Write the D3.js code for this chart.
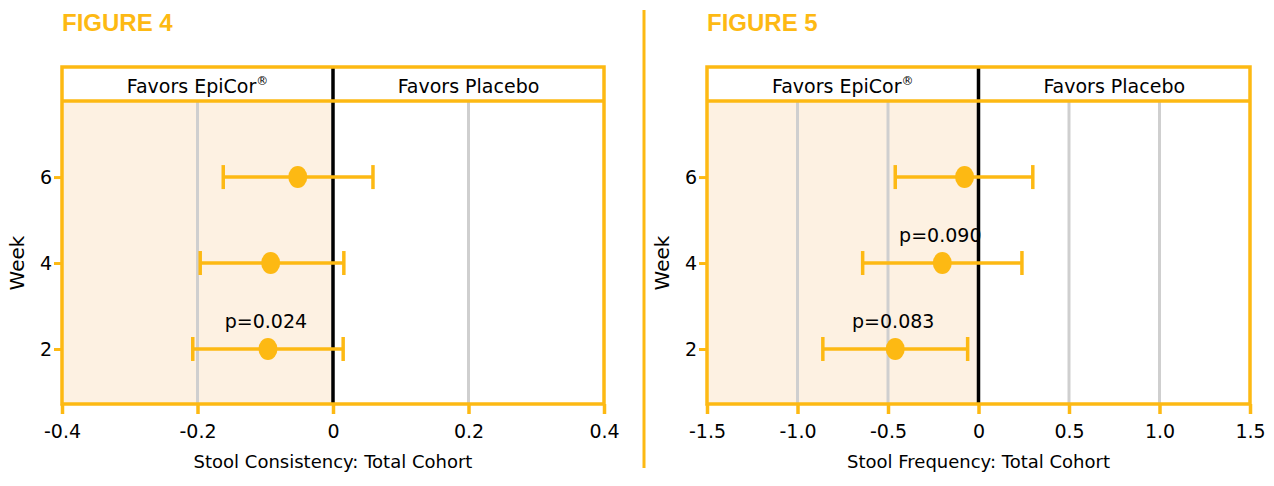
<!DOCTYPE html>
<html><head><meta charset="utf-8">
<script src="https://cdn.jsdelivr.net/npm/d3@7"></script>
<style>body{margin:0;background:#fff}text{font-family:"DejaVu Sans",sans-serif}</style>
</head><body><svg id="c" width="1274" height="486"></svg>
<script>
const weeks=[6,4,2];
const weekLabels=["6","4","2"];
const f4Mean=[-0.052,-0.092,-0.096], f4Lo=[-0.162,-0.196,-0.207], f4Hi=[0.059,0.016,0.015];
const f4P=[null,null,"p=0.024"];
const f4Ticks=[-0.4,-0.2,0,0.2,0.4], f4TickLabels=["-0.4","-0.2","0","0.2","0.4"];
const f5Mean=[-0.077,-0.20,-0.46], f5Lo=[-0.46,-0.64,-0.86], f5Hi=[0.30,0.24,-0.06];
const f5P=[null,"p=0.090","p=0.083"];
const f5Ticks=[-1.5,-1,-0.5,0,0.5,1,1.5], f5TickLabels=["-1.5","-1.0","-0.5","0","0.5","1.0","1.5"];
const C="#FDB913", SH="#FDF1E2";
const svg=d3.select("#c");
svg.append("line").attr("x1",644).attr("x2",644).attr("y1",10).attr("y2",468).attr("stroke",C).attr("stroke-width",3);
function panel(o){
  const g=svg.append("g");
  const x=d3.scaleLinear().domain(o.domain).range([o.x0,o.x1]);
  const y=d3.scaleLinear().domain([0.72,7.77]).range([404,101]);
  const top=67;
  g.append("text").attr("x",o.x0).attr("y",31).text(o.title).attr("fill",C).attr("font-weight","bold").attr("font-size",24).style("font-family","'Liberation Sans',sans-serif");
  g.append("rect").attr("x",o.x0).attr("y",101).attr("width",x(0)-o.x0).attr("height",303).attr("fill",SH);
  o.ticks.forEach(t=>{ if(t!==0&&t!==o.domain[0]&&t!==o.domain[1]) g.append("line").attr("x1",x(t)).attr("x2",x(t)).attr("y1",101).attr("y2",404).attr("stroke","#cfcfcf").attr("stroke-width",3);});
  g.append("line").attr("x1",x(0)).attr("x2",x(0)).attr("y1",top).attr("y2",404).attr("stroke","#000").attr("stroke-width",3.5);
  g.append("rect").attr("x",o.x0).attr("y",top).attr("width",o.x1-o.x0).attr("height",404-top).attr("fill","none").attr("stroke",C).attr("stroke-width",3.5);
  g.append("line").attr("x1",o.x0).attr("x2",o.x1).attr("y1",101).attr("y2",101).attr("stroke",C).attr("stroke-width",3.5);
  g.append("text").attr("x",(o.x0+x(0))/2).attr("y",93).attr("text-anchor","middle").style("font-size","19px").text("Favors EpiCor").append("tspan").attr("dy",-8).style("font-size","12px").text("®");
  g.append("text").attr("x",(x(0)+o.x1)/2).attr("y",93).attr("text-anchor","middle").style("font-size","19px").text("Favors Placebo");
  const ax=g.append("g").attr("transform","translate(0,404)").call(d3.axisBottom(x).tickValues(o.ticks).tickFormat((d,i)=>o.labels[i]).tickSize(10).tickSizeOuter(0));
  ax.select(".domain").remove();
  ax.selectAll("line").attr("stroke",C).attr("stroke-width",3.5);
  ax.selectAll("text").style("font-size","19px").attr("fill","#000").attr("dy","1.1em").style("font-family","'DejaVu Sans',sans-serif");
  const ay=g.append("g").attr("transform",`translate(${o.x0},0)`).call(d3.axisLeft(y).tickValues(weeks).tickFormat((d,i)=>weekLabels[i]).tickSize(8));
  ay.select(".domain").remove();
  ay.selectAll("line").attr("stroke",C).attr("stroke-width",3);
  ay.selectAll("text").style("font-size","19px").attr("fill","#000").attr("x",-10).style("font-family","'DejaVu Sans',sans-serif");
  g.append("text").attr("transform",`translate(${o.x0-38},${y(4)}) rotate(-90)`).attr("text-anchor","middle").style("font-size","20px").text("Week");
  g.append("text").attr("x",x(0)).attr("y",468).attr("text-anchor","middle").style("font-size","18px").text(o.xtitle);
  weeks.forEach((w,i)=>{
    const yy=y(w);
    g.append("line").attr("x1",x(o.lo[i])).attr("x2",x(o.hi[i])).attr("y1",yy).attr("y2",yy).attr("stroke",C).attr("stroke-width",3.5);
    [o.lo[i],o.hi[i]].forEach(v=>g.append("line").attr("x1",x(v)).attr("x2",x(v)).attr("y1",yy-12).attr("y2",yy+12).attr("stroke",C).attr("stroke-width",3.5));
    g.append("ellipse").attr("cx",x(o.mean[i])).attr("cy",yy).attr("rx",9.5).attr("ry",11).attr("fill",C);
    if(o.p[i]) g.append("text").attr("x",x(o.mean[i])-2).attr("y",yy-21).attr("text-anchor","middle").style("font-size","19px").text(o.p[i]);
  });
}
panel({title:"FIGURE 4",domain:[-0.4,0.4],x0:62,x1:604,ticks:f4Ticks,labels:f4TickLabels,mean:f4Mean,lo:f4Lo,hi:f4Hi,p:f4P,xtitle:"Stool Consistency: Total Cohort"});
panel({title:"FIGURE 5",domain:[-1.5,1.5],x0:707,x1:1250,ticks:f5Ticks,labels:f5TickLabels,mean:f5Mean,lo:f5Lo,hi:f5Hi,p:f5P,xtitle:"Stool Frequency: Total Cohort"});
</script></body></html>
